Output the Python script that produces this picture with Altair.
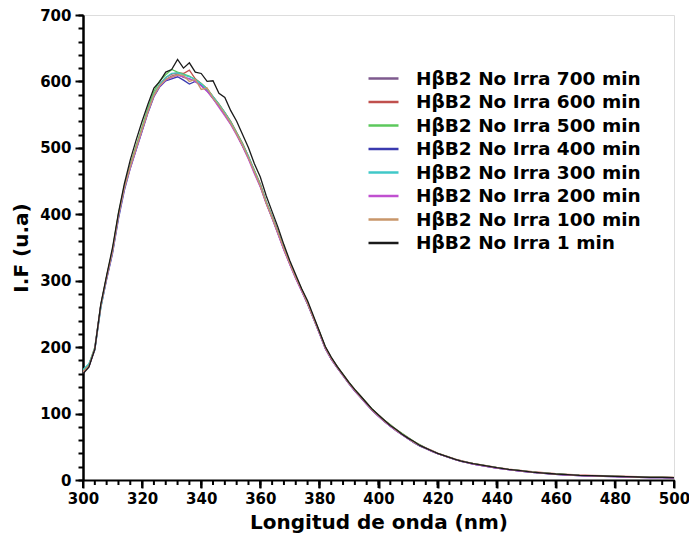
import altair as alt
import pandas as pd

wavelength = list(range(300, 441, 2)) + list(range(444, 501, 4))

series_names = [
    "HβB2 No Irra 700 min",
    "HβB2 No Irra 600 min",
    "HβB2 No Irra 500 min",
    "HβB2 No Irra 400 min",
    "HβB2 No Irra 300 min",
    "HβB2 No Irra 200 min",
    "HβB2 No Irra 100 min",
    "HβB2 No Irra 1 min",
]
series_colors = ["#7e5a8e", "#c0504d", "#5cc85c", "#3a3aaf", "#40c8c8", "#c050d0", "#c8966a", "#1a1a1a"]

s700 = [164,173,199,261,304,344,397,441,471,499,
        527,555,579,594,603,608,611,606,604,600,
        594,586,575,563,550,537,520,503,484,464,
        442,417,394,371,347,325,304,285,265,243,
        221,198,182,169,157,145,134,124,114,104,
        96,88,81,74,68,62,56,51,47,43,
        39.5,36.5,33.5,30.5,28,26,24,22.5,21,19.5,
        18,
        15.5,13.5,11.5,10,8.5,7.5,6.5,6,5.5,5,4.5,4,3.5,3.5,3]
s600 = [162,171,197,262,306,346,399,441,473,502,
        530,557,581,596,606,611,613,612,617,604,
        597,589,577,566,553,540,523,507,487,466,
        446,419,397,374,349,327,306,287,267,245,
        223,200,184,171,159,147,136,126,116,106,
        98,90,83,76,70,64,58,53,48.5,44.5,
        40.5,37.5,34.5,31.5,29,27,25,23.5,22,20.5,
        19,
        16.5,14.5,12.5,11,9.5,8.5,7.5,7,6.5,6,5.5,5,4.5,4.5,4]
s500 = [165,174,200,263,306,347,401,443,474,503,
        531,560,585,601,610,618,614,611,608,603,
        597,589,577,566,553,539,523,506,487,466,
        445,419,397,373,349,327,306,287,267,245,
        223,200,184,171,159,147,136,126,116,106,
        98,90,83,76,70,64,58,53,48,44,
        40,37,34,31,28.5,26.5,24.5,23,21.5,20,
        18.5,
        16,14,12,10.5,9,8,7,6.5,6,5.5,5,4.5,4,4,3.5]
s400 = [163,171,196,259,302,341,393,436,469,497,
        525,553,577,592,601,604,607,602,596,600,
        594,586,574,563,550,536,521,503,485,463,
        443,417,395,371,347,325,304,285,265,243,
        221,198,182,169,157,145,134,124,114,104,
        96,88,81,74,68,62,56,51.5,47.5,43.5,
        39.5,36.5,33.5,30.5,28,26,24,22.5,21,19.5,
        18,
        15.5,13.5,11.5,10,8.5,7.5,6.5,6,5.5,5,4.5,4,3.5,3.5,3]
s300 = [166,175,196,258,304,344,397,440,471,499,
        528,556,580,596,606,612,613,610,607,603,
        596,588,577,565,553,538,522,505,487,465,
        444,418,396,372,348,326,305,286,266,244,
        222,199,183,170,158,146,135,125,115,105,
        97,89,82,75,69,63,57,52,48,44,
        40,37,34,31,28.5,26.5,24.5,23,21.5,20,
        18.5,
        16,14,12,10.5,9,8,7,6.5,6,5.5,5,4.5,4,4,3.5]
s200 = [162,171,198,262,304,344,397,439,470,498,
        526,554,578,593,602,606,609,607,604,600,
        593,585,574,561,548,535,519,502,483,461,
        441,416,394,370,346,324,303,284,265,243,
        221,198,182,169,157,145,134,124,114,104,
        96,88,81,74,68,62,56.5,51.5,47.5,43.5,
        39.5,36.5,33.5,30.5,28,26,24,22.5,21,19.5,
        18,
        15.5,13.5,11.5,10,8.5,7.5,6.5,6,5.5,5,4.5,4,3.5,3.5,3]
s100 = [163,172,197,261,305,345,398,440,472,500,
        528,555,579,594,603,607,610,609,600,603,
        588,590,575,564,551,537,521,504,485,464,
        443,417,395,372,348,326,305,286,266,244,
        222,199,183,170,158,146,135,125,115,105,
        97,89,82,75,69,63,57,52,48,44,
        40,37,34,31,28.5,26.5,24.5,23,21.5,20,
        18.5,
        16,14,12,10.5,9,8,7,6.5,6,5.5,5,4.5,4,4,3.5]
s1 = [160,170,197,264,308,350,402,446,482,512,
      540,566,590,600,614,618,633,620,628,614,
      612,600,601,582,576,556,540,520,500,476,
      456,428,404,380,354,330,309,288,270,247,
      224,201,185,171,159,147,136,126,116,106,
      98,90,82,76,69,63,58,52,48,44,
      40,37,34,31,28.5,26.5,24.5,23,21.5,20,
      18.5,
      16,14,12,10.5,9,8,7,6.5,6,5.5,5,4.5,4,4,3.5]

all_series = [s700, s600, s500, s400, s300, s200, s100, s1]

x_major = list(range(300, 501, 20))
x_minor = list(range(300, 501, 4))
y_major = list(range(0, 701, 100))
y_minor = list(range(0, 701, 20))

rows = []
for order, (name, vals) in enumerate(zip(series_names, all_series)):
    for w, v in zip(wavelength, vals):
        rows.append({"w": w, "v": v, "serie": name, "ord": order})
df = pd.DataFrame(rows)
df_xmajor = pd.DataFrame({"w": x_major})
df_xminor = pd.DataFrame({"w": x_minor})

FONT = "DejaVu Sans"
PLOT_H = 465
x_scale = alt.Scale(domain=[300, 500], nice=False, zero=False)
y_scale = alt.Scale(domain=[0, 700], nice=False)

common = dict(ticks=True, tickOpacity=1, tickWidth=2, tickColor="black",
              domainColor="black", domainWidth=2, grid=False)

x_axis_major = alt.Axis(
    orient="bottom", values=x_major, tickSize=8, **common,
    labelFont=FONT, labelFontWeight="bold", labelFontSize=15, labelColor="black",
    labelPadding=3, labelOverlap=False, labelFlush=False,
    title="Longitud de onda (nm)", titleFont=FONT, titleFontWeight="bold",
    titleFontSize=20, titleColor="black", titlePadding=6,
)
y_axis_major = alt.Axis(
    orient="left", values=y_major, tickSize=8, **common,
    labelFont=FONT, labelFontWeight="bold", labelFontSize=15, labelColor="black",
    labelPadding=4, labelOverlap=False,
    title="I.F (u.a)", titleFont=FONT, titleFontWeight="bold",
    titleFontSize=20, titleColor="black", titlePadding=8,
)
y_axis_minor = alt.Axis(orient="left", values=y_minor, tickSize=5, labels=False, title=None, **common)

minor_layer = alt.Chart(df).mark_point(opacity=0).encode(
    x=alt.X("w:Q", scale=x_scale, axis=None),
    y=alt.Y("v:Q", scale=y_scale, axis=y_axis_minor),
)

# x-axis tick marks drawn from the tick value lists
xminor_ticks = alt.Chart(df_xminor).mark_rule(color="black", strokeWidth=2).encode(
    x=alt.X("w:Q", scale=x_scale, axis=None),
    y=alt.value(PLOT_H),
    y2=alt.value(PLOT_H + 5),
)
xmajor_ticks = alt.Chart(df_xmajor).mark_rule(color="black", strokeWidth=2).encode(
    x=alt.X("w:Q", scale=x_scale, axis=None),
    y=alt.value(PLOT_H),
    y2=alt.value(PLOT_H + 8),
)

lines = alt.Chart(df).mark_line(strokeWidth=1.3, clip=True).encode(
    x=alt.X("w:Q", scale=x_scale, axis=x_axis_major),
    y=alt.Y("v:Q", scale=y_scale, axis=y_axis_major),
    color=alt.Color(
        "serie:N",
        scale=alt.Scale(domain=series_names, range=series_colors),
        sort=series_names,
        legend=alt.Legend(
            title=None, orient="none", legendX=289, legendY=52,
            symbolType="M-1.5,0L1.5,0", symbolSize=400, symbolStrokeWidth=2.5,
            labelFont=FONT, labelFontWeight="bold", labelFontSize=18.5, labelColor="black",
            labelOffset=21, rowPadding=2.5, padding=0, labelLimit=400,
        ),
    ),
    order=alt.Order("ord:Q"),
    detail="serie:N",
)

chart = alt.layer(minor_layer, xminor_ticks, xmajor_ticks, lines).resolve_axis(
    x="independent", y="independent"
).properties(
    width=591, height=PLOT_H,
    autosize=alt.AutoSizeParams(type="none"),
    padding={"left": 83, "top": 15, "right": 15, "bottom": 60},
).configure_view(stroke=None).configure(background="white")

chart.save("out.html", embed_options={"renderer": "svg", "actions": False})
